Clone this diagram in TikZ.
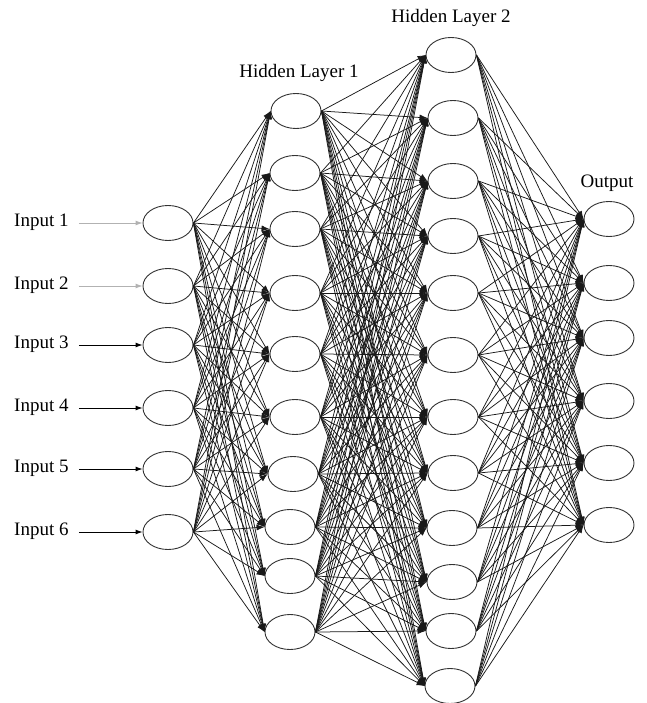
\documentclass[tikz,border=0pt]{standalone}
\usepackage{fontspec}
\setmainfont{Liberation Serif}
\usetikzlibrary{shapes.geometric,arrows.meta}
\begin{document}
\begin{tikzpicture}[x=1pt,y=-1pt,
  neuron/.style={ellipse,draw=black!80,line width=0.9pt,fill=white,
    minimum width=50pt,minimum height=35pt,inner sep=0pt},
  link/.style={draw=black!90,line width=0.75pt,
    -{Latex[length=8pt,width=6pt]}},
  feed/.style={line width=0.9pt,-{Latex[length=7pt,width=5pt]}},
  lab/.style={font=\fontsize{19}{22}\selectfont,inner sep=0pt}]
\useasboundingbox (0,0) rectangle (646,703);

% input layer with its labels
\foreach \y/\c [count=\i] in {223/gray!60,286/gray!60,345/black,408/black,469/black,532/black} {
  \node[neuron] (x\i) at (168,\y) {};
  \node[lab,anchor=base west] (lbl\i) at (14,\y+3) {Input \i};
  \coordinate (s\i) at ([xshift=10pt]lbl\i.east);
  \draw[feed,draw=\c] (s\i |- x\i.west) -- (x\i.west);
}

% hidden layer 1
\foreach \x/\y [count=\i] in {296/111,295/173,295/229,295/293,295/354,295/417,293/474,290/527,290/576,290/632} {
  \node[neuron] (h\i) at (\x,\y) {};
}

% hidden layer 2
\foreach \x/\y [count=\i] in {451/55,453/118,453/181,453/236,453/293,453/355,453/417,453/473,452/528,452/582,451/631,450/686} {
  \node[neuron] (g\i) at (\x,\y) {};
}

% output layer
\foreach \y [count=\i] in {219,283,338,401,463,525} {
  \node[neuron] (o\i) at (609,\y) {};
}

% layer titles
\node[lab,anchor=base] (t1) at (299,78) {Hidden Layer 1};
\node[lab,anchor=base] (t2) at (451,23) {Hidden Layer 2};
\node[lab,anchor=base] (t3) at (607,188) {Output};

% full connections between consecutive layers
\foreach \i in {1,...,6} \foreach \j in {1,...,10} \draw[link] (x\i.east) -- (h\j.west);
\foreach \i in {1,...,10} \foreach \j in {1,...,12} \draw[link] (h\i.east) -- (g\j.west);
\foreach \i in {1,...,12} \foreach \j in {1,...,6} \draw[link] (g\i.east) -- (o\j.west);
\end{tikzpicture}
\end{document}
